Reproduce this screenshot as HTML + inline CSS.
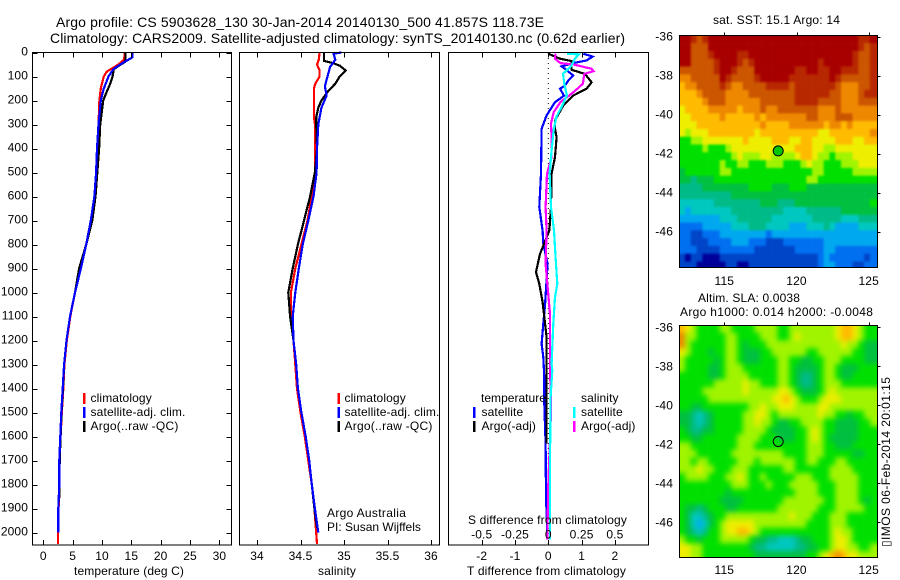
<!DOCTYPE html>
<html>
<head>
<meta charset="utf-8">
<title>Argo profile</title>
<style>
html,body{margin:0;padding:0;background:#fff;width:900px;height:580px;overflow:hidden}
svg{display:block;font-family:"Liberation Sans",sans-serif;font-size:12px;fill:#000}
text{letter-spacing:.12px}
.t{font-size:14px;letter-spacing:0}
.line{fill:none;stroke-width:2.2;stroke-linejoin:miter;shape-rendering:crispEdges}
</style>
</head>
<body>
<svg id="fig" width="900" height="580" viewBox="0 0 900 580" xmlns="http://www.w3.org/2000/svg">
<defs>
<clipPath id="sstClip"><rect x="680" y="36" width="197" height="231"/></clipPath>
<clipPath id="slaClip"><rect x="680" y="326" width="197" height="231"/></clipPath>
<filter id="sstSoft" filterUnits="userSpaceOnUse" x="660" y="15" width="240" height="275" color-interpolation-filters="sRGB"><feGaussianBlur stdDeviation="1.1"/></filter>
<filter id="slaSoft" filterUnits="userSpaceOnUse" x="660" y="305" width="240" height="275" color-interpolation-filters="sRGB"><feGaussianBlur stdDeviation="2.6"/></filter>
</defs>
<rect x="0" y="0" width="900" height="580" fill="#fff"/>
<text class="t" x="56" y="27" textLength="488">Argo profile: CS 5903628_130 30-Jan-2014 20140130_500 41.857S 118.73E</text>
<text class="t" x="50" y="43" textLength="575">Climatology: CARS2009. Satellite-adjusted climatology: synTS_20140130.nc (0.62d earlier)</text>

<g clip-path="url(#sstClip)"><g id="sstMap" filter="url(#sstSoft)"></g></g>
<g clip-path="url(#slaClip)"><g id="slaMap" filter="url(#slaSoft)"></g></g>
<g id="markers"></g>
<g id="p1"></g>
<g id="p2"></g>
<g id="p3"></g>

<rect x="32.5" y="52.5" width="199" height="492.5" fill="none" stroke="#000" shape-rendering="crispEdges"/>
<rect x="239.5" y="52.5" width="200" height="492.5" fill="none" stroke="#000" shape-rendering="crispEdges"/>
<rect x="448.5" y="52.5" width="200" height="492.5" fill="none" stroke="#000" shape-rendering="crispEdges"/>
<rect x="679.5" y="35.5" width="198" height="232" fill="none" stroke="#000" shape-rendering="crispEdges"/>
<rect x="679.5" y="325.5" width="198" height="232" fill="none" stroke="#000" shape-rendering="crispEdges"/>

<g id="ticks"></g>

<text x="74" y="575" textLength="110">temperature (deg C)</text>
<text x="318" y="575" textLength="38">salinity</text>
<text x="467" y="575" textLength="159">T difference from climatology</text>
<text x="468" y="524" textLength="159">S difference from climatology</text>

<g>
<rect x="83" y="393" width="2.5" height="11" fill="#f00"/>
<text x="90.5" y="402">climatology</text>
<rect x="83" y="407" width="2.5" height="11" fill="#00f"/>
<text x="90.5" y="416" textLength="95">satellite-adj. clim.</text>
<rect x="83" y="421" width="2.5" height="11" fill="#000"/>
<text x="90.5" y="430" textLength="88">Argo(..raw -QC)</text>
</g>
<g>
<rect x="337.5" y="393" width="2.5" height="11" fill="#f00"/>
<text x="344.5" y="402">climatology</text>
<rect x="337.5" y="407" width="2.5" height="11" fill="#00f"/>
<text x="344.5" y="416" textLength="95">satellite-adj. clim.</text>
<rect x="337.5" y="421" width="2.5" height="11" fill="#000"/>
<text x="344.5" y="430" textLength="88">Argo(..raw -QC)</text>
<text x="327" y="517" textLength="79">Argo Australia</text>
<text x="327" y="531" textLength="94">PI: Susan Wijffels</text>
</g>
<g>
<text x="481" y="402" textLength="65">temperature</text>
<rect x="473" y="407" width="2.5" height="11" fill="#00f"/>
<text x="481.5" y="416">satellite</text>
<rect x="473" y="421" width="2.5" height="11" fill="#000"/>
<text x="481.5" y="430">Argo(-adj)</text>
<text x="581" y="402">salinity</text>
<rect x="573" y="407" width="2.5" height="11" fill="#0ff"/>
<text x="581" y="416">satellite</text>
<rect x="573" y="421" width="2.5" height="11" fill="#f0f"/>
<text x="581" y="430">Argo(-adj)</text>
</g>

<text x="713" y="24" textLength="127">sat. SST: 15.1  Argo: 14</text>
<text x="698" y="302" textLength="102">Altim. SLA: 0.0038</text>
<text x="680" y="316" textLength="193">Argo h1000: 0.014 h2000: -0.0048</text>
<text transform="translate(890,547) rotate(-90)" textLength="170">▯IMOS 06-Feb-2014 20:01:15</text>
</svg>

<script>
// ---------- Axis tick labels ----------
const depthTicks = [0,100,200,300,400,500,600,700,800,900,1000,1100,1200,1300,1400,1500,1600,1700,1800,1900,2000];
const tempTicks = [0,5,10,15,20,25,30];
const salTicks = [34,34.5,35,35.5,36];
const tDiffTicks = [-2,-1,0,1,2];
const sDiffTicks = [-0.5,-0.25,0,0.25,0.5];
const lonTicks = [115,120,125];
const latTicks = [-36,-38,-40,-42,-44,-46];

// ---------- Profile location ----------
const argoLon = 118.73;
const argoLat = -41.857;

// ---------- Temperature panel ----------
const tempClimDepth = [0,30,50,80,100,150,200,300,400,500,600,700,800,900,1000,1100,1200,1300,1400,1500,1600,1700,1800,1900,2000,2050];
const tempClimValue = [13.9,13.75,12.8,10.8,10.3,9.8,9.55,9.4,9.2,9.0,8.7,8.2,7.3,6.25,5.4,4.6,4.0,3.6,3.4,3.15,2.95,2.78,2.72,2.6,2.5,2.5];
const tempArgoDepth = [0,30,40,50,70,100,130,170,200,300,400,500,600,700,800,900,1000,1100,1200,1300,1400,1500,1600,1700,1800,1870];
const tempArgoValue = [14,14,13.9,13.2,12,11.8,11.4,10.7,10.2,9.7,9.5,9.2,8.9,8.35,7.3,6.1,5.4,4.55,3.95,3.55,3.35,3.1,2.95,2.8,2.75,2.7];
const tempSatDepth = [0,20,30,50,70,100,150,200,300,400,500,600,700,800,900,1000,1100,1200,1300,1400,1500,1600,1700,1800,1900,2000];
const tempSatValue = [15.2,15.2,14.5,13.1,11.9,11.1,10.3,9.8,9.4,9.15,9,8.7,8.1,7.3,6.4,5.4,4.55,3.95,3.55,3.3,3.07,2.9,2.73,2.73,2.56,2.55];

// ---------- Salinity panel ----------
const salClimDepth = [0,30,50,75,100,130,150,200,270,300,400,500,600,700,800,900,1000,1100,1200,1300,1400,1500,1600,1700,1800,1900,2000,2050];
const salClimValue = [34.72,34.71,34.69,34.72,34.72,34.67,34.655,34.655,34.655,34.667,34.667,34.667,34.63,34.58,34.51,34.44,34.39,34.39,34.42,34.44,34.46,34.5,34.55,34.59,34.63,34.66,34.68,34.69];
const salArgoDepth = [0,35,45,55,75,100,130,160,200,230,270,300,400,500,600,700,800,900,1000,1100,1200,1300,1400,1500,1600,1700,1800,1900,1980];
const salArgoValue = [34.77,34.77,34.88,34.95,35.02,34.95,34.9,34.82,34.74,34.705,34.68,34.68,34.69,34.665,34.61,34.54,34.47,34.41,34.36,34.38,34.42,34.45,34.47,34.51,34.56,34.6,34.63,34.66,34.69];
const salSatDepth = [0,5,30,60,100,140,180,230,300,400,500,600,700,800,900,1000,1100,1200,1300,1400,1500,1600,1700,1800,1900,2000];
const salSatValue = [34.97,34.88,34.9,34.84,34.81,34.78,34.8,34.74,34.705,34.69,34.685,34.65,34.59,34.525,34.48,34.44,34.41,34.42,34.45,34.47,34.51,34.56,34.6,34.63,34.665,34.705];

// ---------- Difference panel ----------
const tDiffSatDepth = [5,17,33,44,58,68,96,117,138,151,180,207,262,318,505,644,742,797,881,1054,1130,1214,1269,1353,1464,1630,1854,2030];
const tDiffSatValue = [1.05,1.33,1.15,0.75,0.4,0.5,0.75,0.6,0.5,0.35,0.47,0.2,-0.05,-0.2,-0.22,-0.27,-0.17,-0.15,-0.02,-0.1,-0.15,-0.2,-0.15,-0.12,-0.12,-0.08,-0.07,-0.02];
const tDiffArgoDepth = [5,26,36,44,72,89,124,151,179,221,283,318,353,436,505,644,742,839,915,964,1040,1186,1297,1360,1464,1630];
const tDiffArgoValue = [0,0.35,0.7,0.7,0.7,1.1,1.3,1.15,0.75,0.45,0.2,0.2,0.25,0.2,0.1,0.08,0.03,-0.25,-0.37,-0.27,-0.17,-0.05,-0.05,-0.05,-0.05,-0.05];
const sDiffArgoDepth = [5,26,44,50,68,78,89,130,165,207,249,297,353,436,505,644,742,881,1090,1297,1500,1800,2030];
const sDiffArgoValue = [0.055,0.05,0.09,0.19,0.325,0.34,0.27,0.26,0.19,0.09,0.04,0.02,0.025,0.025,-0.01,-0.02,-0.0125,-0.02,0.0125,0.0125,0.02,0.0,-0.0075];
const sDiffSatDepth = [5,8,26,54,68,89,130,179,214,269,325,408,505,644,742,881,964,1020,1130,1297,1325,1435,1700,2030];
const sDiffSatValue = [0.14,0.23,0.2,0.175,0.15,0.11,0.12,0.14,0.11,0.06,0.04,0.025,0.01,0.02,0.0425,0.0575,0.0675,0.05,0.0375,0.025,0.03,0.0175,0.0125,0.0125];

// ---------- SST map, colour level per cell, north to south ----------
const sstLevels = [
[14,14,13,12,13,14,14,14,14,14,14,14,14,14,14,14,14,14,14,14,14,14,14,14,14,14,14,14,14,14,14,13,13,14],
[14,14,12,12,12,14,14,14,14,14,14,14,14,14,14,14,14,14,14,14,14,14,14,14,14,14,14,14,14,14,14,13,12,13],
[14,14,12,12,12,13,14,14,14,14,13,13,14,14,14,14,14,14,14,14,14,14,14,14,14,14,14,14,14,14,13,12,12,13],
[14,14,12,12,12,12,13,14,14,14,13,12,13,14,14,14,14,14,14,14,14,14,14,14,13,14,14,14,14,14,13,12,12,13],
[12,12,12,12,12,12,13,14,14,13,12,12,12,14,14,14,14,14,14,14,13,13,14,14,13,13,14,14,13,13,13,12,12,13],
[11,11,12,12,12,12,12,14,13,12,12,12,12,13,14,14,14,14,14,13,13,13,13,13,13,13,14,13,12,12,12,12,12,13],
[10,11,11,12,12,12,12,13,12,11,11,12,12,12,12,13,13,13,13,12,13,13,13,13,13,13,13,12,11,11,11,12,12,13],
[10,10,10,11,12,12,12,12,11,11,11,11,12,12,12,12,12,12,12,12,13,13,13,13,13,13,12,12,11,11,11,12,13,13],
[10,10,10,10,11,12,12,12,11,11,11,11,11,11,12,12,12,12,12,12,13,13,13,13,12,12,12,12,11,11,11,12,12,12],
[9,10,10,10,10,11,11,11,11,11,10,11,11,11,12,11,11,12,12,12,12,12,12,12,11,11,11,12,11,11,11,11,11,11],
[9,9,10,10,10,10,10,11,10,10,10,10,10,11,10,11,11,11,11,11,11,11,12,12,11,11,11,12,12,12,11,11,11,11],
[9,9,9,10,10,10,10,10,10,10,10,10,10,10,11,10,10,10,10,11,11,11,11,11,11,10,11,11,10,11,10,10,10,10],
[9,8,9,9,9,10,10,10,10,10,10,10,10,9,10,10,10,10,10,10,10,10,10,10,9,9,10,10,10,10,10,10,10,11],
[7,7,8,8,9,9,9,9,9,9,9,10,9,9,9,9,10,10,10,9,9,10,10,9,9,9,9,10,10,10,9,9,10,10],
[7,7,7,7,8,7,7,7,8,9,9,9,9,9,9,9,9,9,9,9,10,10,10,9,9,8,8,9,9,9,9,9,9,9],
[7,7,7,7,7,7,7,7,7,8,9,8,8,8,9,9,8,8,8,8,9,10,10,9,8,8,7,8,8,8,9,9,9,9],
[7,7,7,7,7,7,7,8,7,7,8,8,7,7,7,8,8,8,7,7,7,8,9,8,8,7,7,7,8,8,8,9,9,9],
[6,7,7,7,7,7,7,8,8,7,7,7,7,7,7,7,7,7,7,7,7,7,7,8,8,7,7,7,7,7,8,8,8,8],
[6,6,5,6,6,6,7,7,7,7,7,7,7,7,7,7,7,7,7,7,7,7,8,8,7,7,7,7,7,7,7,7,7,7],
[5,5,5,5,6,6,6,6,6,6,6,6,7,7,7,7,6,6,6,7,7,7,6,6,6,6,6,6,6,6,6,6,6,6],
[5,5,5,5,5,5,5,5,5,6,6,6,6,6,6,6,6,6,6,6,6,6,6,6,6,6,6,6,6,6,6,6,6,6],
[4,4,4,4,4,4,5,5,5,5,5,5,5,5,6,6,6,5,5,5,6,6,6,6,6,6,6,6,6,6,6,6,6,7],
[4,3,4,4,4,4,4,4,4,5,5,5,5,5,5,5,5,5,4,4,4,4,5,5,5,5,5,5,6,6,6,6,6,6],
[3,3,3,3,3,3,3,4,4,4,5,5,5,5,5,5,4,4,4,4,4,4,4,5,5,5,5,5,4,4,4,5,5,5],
[2,2,2,2,3,3,3,3,3,4,4,4,5,5,5,4,4,4,4,3,3,3,4,4,4,5,4,3,3,3,3,4,4,4],
[2,2,1,1,2,2,2,3,3,3,3,3,3,3,3,2,3,3,3,3,3,3,3,3,3,3,3,3,3,3,3,3,3,3],
[2,2,1,1,1,2,2,2,2,3,3,3,2,2,2,1,1,1,2,2,2,2,2,2,2,3,3,3,3,3,3,3,3,3],
[2,2,2,1,1,1,1,2,2,2,2,2,2,1,1,1,1,1,1,1,2,2,2,2,2,3,3,2,2,2,2,2,2,2],
[1,0,1,1,0,0,0,1,1,1,1,1,1,1,1,1,1,1,1,1,1,1,1,1,2,3,2,2,2,2,2,2,1,2],
[1,1,1,0,0,0,0,0,1,1,0,0,1,1,1,1,1,1,1,1,1,1,1,1,2,3,3,2,2,2,1,1,2,2]
];

// ---------- SLA map, colour level per cell, north to south ----------
const slaLevels = [
[10,9,8,7,7,7,7,8,8,7,7,7,7,8,8,8,8,7,7,8,8,8,8,8,8,8,8,9,10,10,9,8,7,7],
[11,8,8,7,7,7,7,7,8,8,7,7,7,7,8,8,8,7,7,8,9,8,8,8,8,8,8,9,10,10,9,8,7,7],
[11,8,7,7,7,7,7,7,8,8,7,6,7,7,7,8,8,8,8,8,8,8,8,8,8,8,8,8,9,8,8,7,6,6],
[9,8,7,7,7,6,7,7,8,8,7,6,6,6,7,7,8,8,8,8,8,8,7,7,8,8,8,8,8,8,7,7,6,6],
[8,7,7,7,7,7,6,7,8,8,7,6,6,6,7,7,7,8,8,7,7,6,6,7,7,8,8,8,7,7,7,7,6,6],
[8,7,7,7,7,6,6,7,8,8,8,7,7,7,7,7,7,8,8,7,6,6,6,6,7,8,8,7,6,6,6,7,7,7],
[7,7,7,7,7,6,6,7,8,8,8,8,7,7,7,7,7,8,8,7,6,5,5,6,7,8,8,7,6,6,7,7,7,7],
[7,7,7,7,7,7,8,8,8,8,8,9,8,8,7,7,7,8,8,7,6,5,5,6,7,8,8,8,7,7,7,7,7,7],
[7,7,7,7,8,8,8,8,8,8,8,9,8,8,8,8,8,9,9,8,7,6,6,6,7,8,9,8,8,8,8,8,8,8],
[7,7,7,7,7,8,8,8,8,8,8,8,8,8,8,8,9,9,10,9,8,7,7,7,8,9,9,9,8,8,8,8,8,8],
[7,7,6,6,7,7,7,7,7,7,7,7,8,8,9,8,8,9,9,9,8,8,8,8,9,9,8,8,8,8,8,8,8,8],
[6,6,5,4,5,6,7,7,7,7,7,8,8,9,9,8,7,8,8,8,8,8,8,8,9,8,8,7,7,6,7,7,8,8],
[6,6,5,4,5,6,7,7,7,7,7,8,8,9,8,8,7,6,6,7,7,8,8,8,8,7,7,6,6,6,6,7,7,8],
[7,6,5,5,6,6,7,7,7,7,7,8,8,8,8,7,6,6,6,6,7,7,8,9,8,7,7,6,6,6,6,7,7,7],
[7,7,6,6,7,7,7,7,7,7,8,8,8,8,7,7,7,6,6,6,7,7,8,9,8,7,6,6,6,6,6,7,7,7],
[8,8,7,7,7,7,7,7,7,7,8,8,8,7,7,7,7,7,7,7,7,7,8,8,8,7,7,6,6,6,7,7,7,7],
[8,8,8,7,7,7,7,7,7,8,8,8,8,8,8,8,8,8,7,7,7,7,8,8,8,7,7,7,7,7,6,6,7,7],
[8,8,7,8,8,7,7,7,7,7,8,8,8,7,8,8,8,8,8,8,7,7,8,8,7,7,7,8,8,7,7,7,7,7],
[8,8,8,9,8,8,7,7,7,8,8,8,7,7,7,7,7,7,8,8,7,7,7,7,7,7,8,8,8,8,7,7,7,7],
[7,8,8,8,8,7,7,7,8,8,9,8,7,7,8,7,7,7,7,7,8,8,8,7,7,7,8,8,8,8,8,7,7,7],
[7,7,7,7,7,7,7,7,7,8,8,8,7,7,7,8,7,7,7,8,8,8,8,8,7,7,7,8,8,8,8,7,7,7],
[7,7,7,7,7,7,7,7,6,7,7,7,7,7,7,7,7,7,7,7,8,8,8,8,7,7,7,8,8,8,8,7,7,7],
[7,7,7,7,7,7,7,6,6,6,6,7,7,7,7,7,7,7,8,8,8,8,8,8,8,7,7,8,8,8,8,7,6,7],
[7,6,6,5,6,7,7,7,6,6,7,7,7,7,7,7,7,8,8,8,8,8,8,8,7,7,7,8,8,8,8,8,7,7],
[7,6,4,4,5,6,7,7,8,8,8,8,8,8,8,8,8,8,8,9,8,8,8,7,7,7,8,8,8,7,7,7,7,7],
[7,6,4,3,4,6,7,8,9,9,9,9,9,8,8,8,8,8,8,8,8,8,7,7,7,7,8,8,8,7,7,7,7,7],
[7,6,5,4,5,7,7,8,9,9,10,10,9,8,7,7,7,7,7,7,7,7,7,7,7,7,8,9,8,8,7,7,7,7],
[8,7,7,6,7,7,7,8,8,8,8,8,7,6,6,5,5,4,4,4,5,6,6,7,7,7,8,9,9,8,7,7,7,7],
[9,9,8,8,7,7,7,7,7,7,7,7,6,5,5,4,4,4,4,4,5,5,6,6,7,7,8,9,9,8,8,7,7,8],
[9,9,8,8,7,7,7,7,7,7,7,7,7,6,6,6,6,6,6,6,6,6,7,7,8,9,10,11,10,9,9,8,8,8]
];

const SVGNS = 'http://www.w3.org/2000/svg';

// ---------- Axis functions ----------
function yDepth(d){ return 52.5 + 0.24 * d; }
function xTemp(v){ return 43.3 + 5.87 * v; }
function xSal(v){ return 257 + 87 * (v - 34); }
function xTDiff(v){ return 548.3 + 33.3 * v; }
function xSDiff(v){ return 548.3 + 133.2 * v; }
function lonX(lon){ return 724.3 + 14.44 * (lon - 115); }
function latYTop(lat){ return 36.7 + 19.5 * (-36 - lat); }
function latYBottom(lat){ return 327.3 + 19.5 * (-36 - lat); }
function levelColor(v){
  return ['#000099','#0044c8','#0070f0','#00a8f0','#00c8c0','#00bb88','#00c040','#00e000','#a0f400','#eeee00','#ffbb00','#ee8800','#cc5500','#b82800','#a80000'][v];
}

function makeLine(parent, name, depths, values, xf, color){
  const el = document.createElementNS(SVGNS, 'polyline');
  
  
  el.setAttribute('class', 'line');
  el.setAttribute('stroke', color);
  el.setAttribute('points', depths.map(function(d, i){ return xf(values[i]).toFixed(1) + ',' + Math.min(yDepth(d), 544).toFixed(1); }).join(' '));
  parent.appendChild(el);
}

function makeTick(x1, y1, x2, y2){
  const el = document.createElementNS(SVGNS, 'line');
  
  
  el.setAttribute('x1', x1);
  el.setAttribute('y1', y1);
  el.setAttribute('x2', x2);
  el.setAttribute('y2', y2);
  el.setAttribute('stroke', '#000');
  el.setAttribute('shape-rendering', 'crispEdges');
  document.getElementById('ticks').appendChild(el);
}

function makeLabel(x, y, str, anchor){
  const el = document.createElementNS(SVGNS, 'text');
  
  
  el.setAttribute('x', x);
  el.setAttribute('y', y);
  el.setAttribute('text-anchor', anchor);
  el.textContent = str;
  document.getElementById('ticks').appendChild(el);
}

function makeMap(parent, rows, yf){
  const cellLon = 0.4, cellLat = 0.4, lon0 = 111.88, lat0 = yf === latYTop ? -35.93 : -35.88;
  const bleed = 12;
  rows.forEach(function(row, r){
    row.forEach(function(v, c){
      const el = document.createElementNS(SVGNS, 'rect');
      
      
      let x0 = lonX(lon0 + c * cellLon), x1 = lonX(lon0 + (c + 1) * cellLon);
      let y0 = yf(lat0 - r * cellLat), y1 = yf(lat0 - (r + 1) * cellLat);
      if (c === 0) x0 -= bleed;
      if (c === row.length - 1) x1 += bleed;
      if (r === 0) y0 -= bleed;
      if (r === rows.length - 1) y1 += bleed;
      el.setAttribute('x', x0.toFixed(2));
      el.setAttribute('y', y0.toFixed(2));
      el.setAttribute('width', (x1 - x0 + 0.3).toFixed(2));
      el.setAttribute('height', (y1 - y0 + 0.3).toFixed(2));
      el.setAttribute('fill', levelColor(v));
      parent.appendChild(el);
    });
  });
}

function makeMarker(parent, name, yf, fill){
  const el = document.createElementNS(SVGNS, 'circle');
  
  
  el.setAttribute('cx', lonX(argoLon).toFixed(1));
  el.setAttribute('cy', yf(argoLat).toFixed(1));
  el.setAttribute('r', '5');
  el.setAttribute('fill', fill);
  el.setAttribute('stroke', '#000');
  parent.appendChild(el);
}

// ---------- Maps ----------
makeMap(document.getElementById('sstMap'), sstLevels, latYTop);
makeMap(document.getElementById('slaMap'), slaLevels, latYBottom);
const markerLayer = document.getElementById('markers');
makeMarker(markerLayer, 'argo-marker-sst', latYTop, '#00c800');
makeMarker(markerLayer, 'argo-marker-sla', latYBottom, 'none');

// ---------- Profiles ----------
const p1 = document.getElementById('p1');
makeLine(p1, 'temperature-climatology-line', tempClimDepth, tempClimValue, xTemp, '#f00');
makeLine(p1, 'temperature-argo-line', tempArgoDepth, tempArgoValue, xTemp, '#000');
makeLine(p1, 'temperature-satellite-line', tempSatDepth, tempSatValue, xTemp, '#00f');

const p2 = document.getElementById('p2');
makeLine(p2, 'salinity-climatology-line', salClimDepth, salClimValue, xSal, '#f00');
makeLine(p2, 'salinity-argo-line', salArgoDepth, salArgoValue, xSal, '#000');
makeLine(p2, 'salinity-satellite-line', salSatDepth, salSatValue, xSal, '#00f');

const p3 = document.getElementById('p3');
const zeroLine = document.createElementNS(SVGNS, 'line');


zeroLine.setAttribute('x1', xTDiff(0));
zeroLine.setAttribute('x2', xTDiff(0));
zeroLine.setAttribute('y1', 53);
zeroLine.setAttribute('y2', 545);
zeroLine.setAttribute('stroke', '#000');
zeroLine.setAttribute('stroke-dasharray', '1 4');
p3.appendChild(zeroLine);
makeLine(p3, 't-diff-satellite-line', tDiffSatDepth, tDiffSatValue, xTDiff, '#00f');
makeLine(p3, 't-diff-argo-line', tDiffArgoDepth, tDiffArgoValue, xTDiff, '#000');
makeLine(p3, 's-diff-argo-line', sDiffArgoDepth, sDiffArgoValue, xSDiff, '#f0f');
makeLine(p3, 's-diff-satellite-line', sDiffSatDepth, sDiffSatValue, xSDiff, '#0ff');

// ---------- Ticks and labels ----------
depthTicks.forEach(function(d){
  const y = Math.round(yDepth(d)) + 0.5;
  makeTick(32.5, y, 37.5, y);
  makeTick(226.5, y, 231.5, y);
  makeLabel(28, yDepth(d) + 3, String(d), 'end');
});
tempTicks.forEach(function(v){
  const x = Math.round(xTemp(v)) + 0.5;
  makeTick(x, 52.5, x, 57.5);
  makeTick(x, 540, x, 545);
  makeLabel(xTemp(v), 560, String(v), 'middle');
});
salTicks.forEach(function(v){
  const x = Math.round(xSal(v)) + 0.5;
  makeTick(x, 52.5, x, 57.5);
  makeTick(x, 540, x, 545);
  makeLabel(xSal(v), 560, String(v), 'middle');
});
tDiffTicks.forEach(function(v){
  const x = Math.round(xTDiff(v)) + 0.5;
  makeTick(x, 52.5, x, 57.5);
  makeTick(x, 540, x, 545);
  makeLabel(xTDiff(v), 560, String(v), 'middle');
});
sDiffTicks.forEach(function(v){
  makeLabel(xSDiff(v), 538.5, String(v), 'middle');
});
lonTicks.forEach(function(v){
  const x = Math.round(lonX(v)) + 0.5;
  makeTick(x, 32.5, x, 35.5);
  makeTick(x, 322.5, x, 325.5);
  makeLabel(lonX(v), 285, String(v), 'middle');
  makeLabel(lonX(v), 574, String(v), 'middle');
});
latTicks.forEach(function(v){
  const y1 = Math.round(latYTop(v)) + 0.5;
  const y2 = Math.round(latYBottom(v)) + 0.5;
  makeTick(877.5, y1, 880.5, y1);
  makeTick(877.5, y2, 880.5, y2);
  makeLabel(673, latYTop(v) + 4, String(v), 'end');
  makeLabel(673, latYBottom(v) + 4, String(v), 'end');
});
</script>
</body>
</html>
